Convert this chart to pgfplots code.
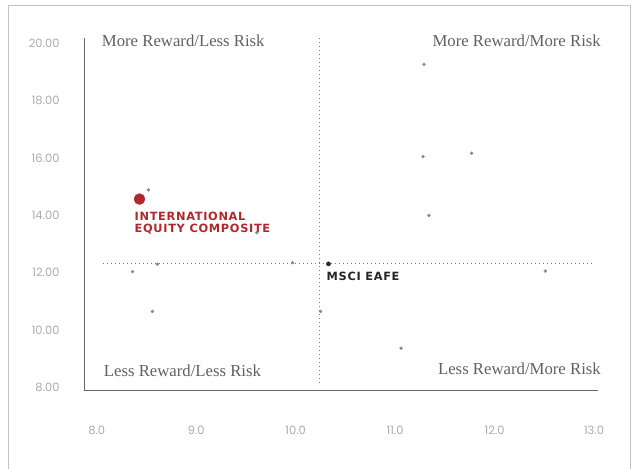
\documentclass[border=0pt]{standalone}
\usepackage{pgfplots}
\pgfplotsset{compat=1.18}
\usepackage{fontspec}
\setmainfont{Liberation Serif}
\newfontfamily\tickfont{Poppins}
\newfontfamily\tagfont{DejaVu Sans}[LetterSpace=6]

\definecolor{tickgray}{HTML}{ABABAB}
\definecolor{quadgray}{HTML}{606060}
\definecolor{compred}{HTML}{B0282C}
\definecolor{dotgray}{HTML}{8A8A8A}
\definecolor{linegray}{HTML}{7A7A7A}
\definecolor{framegray}{HTML}{C4C4C4}

\begin{document}
\begin{tikzpicture}
\path[use as bounding box] (0,0) rectangle (635bp,469bp);
% page frame
\draw[line width=0.6bp, framegray] (8bp,0) -- (8bp,464bp) -- (630bp,464bp) -- (630bp,0);
\begin{axis}[
  at={(84bp,79bp)}, anchor=south west,
  scale only axis, width=514bp, height=352bp,
  xmin=7.872, xmax=13.04, ymin=7.91, ymax=20.19,
  axis x line*=bottom, axis y line*=left,
  axis line style={line width=0.7bp, black!60, -},
  xtick={8,9,10,11,12,13},
  xticklabels={8.0,9.0,10.0,11.0,12.0,13.0},
  ytick={8,10,12,14,16,18,20},
  yticklabels={8.00,10.00,12.00,14.00,16.00,18.00,20.00},
  major tick length=0pt,
  xticklabel style={font=\tickfont\fontsize{11.5}{12}\selectfont, text=tickgray, yshift=-33bp},
  yticklabel style={font=\tickfont\fontsize{11.5}{12}\selectfont, text=tickgray, xshift=-21bp},
  clip=false,
]
% benchmark cross-hairs
\addplot[linegray, line width=1.2bp, dash pattern=on 1.2bp off 2.8bp]
  coordinates {(8.06,12.33) (12.98,12.33)};
\addplot[linegray, line width=1.2bp, dash pattern=on 1.2bp off 2.8bp]
  coordinates {(10.24,8.15) (10.24,20.21)};

% peer managers
\addplot[only marks, mark=*, mark size=1.5bp, dotgray] coordinates {
  (8.52,14.89) (9.61,13.40) (8.61,12.30) (8.36,12.04) (8.56,10.65)
  (9.97,12.35) (10.25,10.65) (11.29,19.27) (11.28,16.05) (11.77,16.17)
  (11.34,14.00) (12.51,12.06) (11.06,9.37)
};
% MSCI EAFE
\addplot[only marks, mark=*, mark size=2.1bp, black!85] coordinates {(10.33,12.31)};
% International Equity Composite
\addplot[only marks, mark=*, mark size=5.5bp, compred] coordinates {(8.43,14.57)};

% quadrant captions
\node[anchor=west, text=quadgray, font=\fontsize{16.8}{18}\selectfont, inner sep=0pt]
  at (axis cs:8.05,20.09) {More Reward/Less Risk};
\node[anchor=east, text=quadgray, font=\fontsize{16.8}{18}\selectfont, inner sep=0pt]
  at (axis cs:13.07,20.09) {More Reward/More Risk};
\node[anchor=west, text=quadgray, font=\fontsize{16.8}{18}\selectfont, inner sep=0pt]
  at (axis cs:8.07,8.58) {Less Reward/Less Risk};
\node[anchor=east, text=quadgray, font=\fontsize{16.8}{18}\selectfont, inner sep=0pt]
  at (axis cs:13.07,8.65) {Less Reward/More Risk};

% point labels
\node[anchor=west, text=compred, font=\tagfont\bfseries\fontsize{11.4}{12}\selectfont, inner sep=0pt]
  at (axis cs:8.38,13.98) {INTERNATIONAL};
\node[anchor=west, text=compred, font=\tagfont\bfseries\fontsize{11.4}{12}\selectfont, inner sep=0pt]
  at (axis cs:8.38,13.53) {EQUITY COMPOSITE};
\node[anchor=west, text=black!85, font=\tagfont\bfseries\fontsize{11.4}{12}\selectfont, inner sep=0pt]
  at (axis cs:10.31,11.89) {MSCI EAFE};
\end{axis}
\end{tikzpicture}
\end{document}
